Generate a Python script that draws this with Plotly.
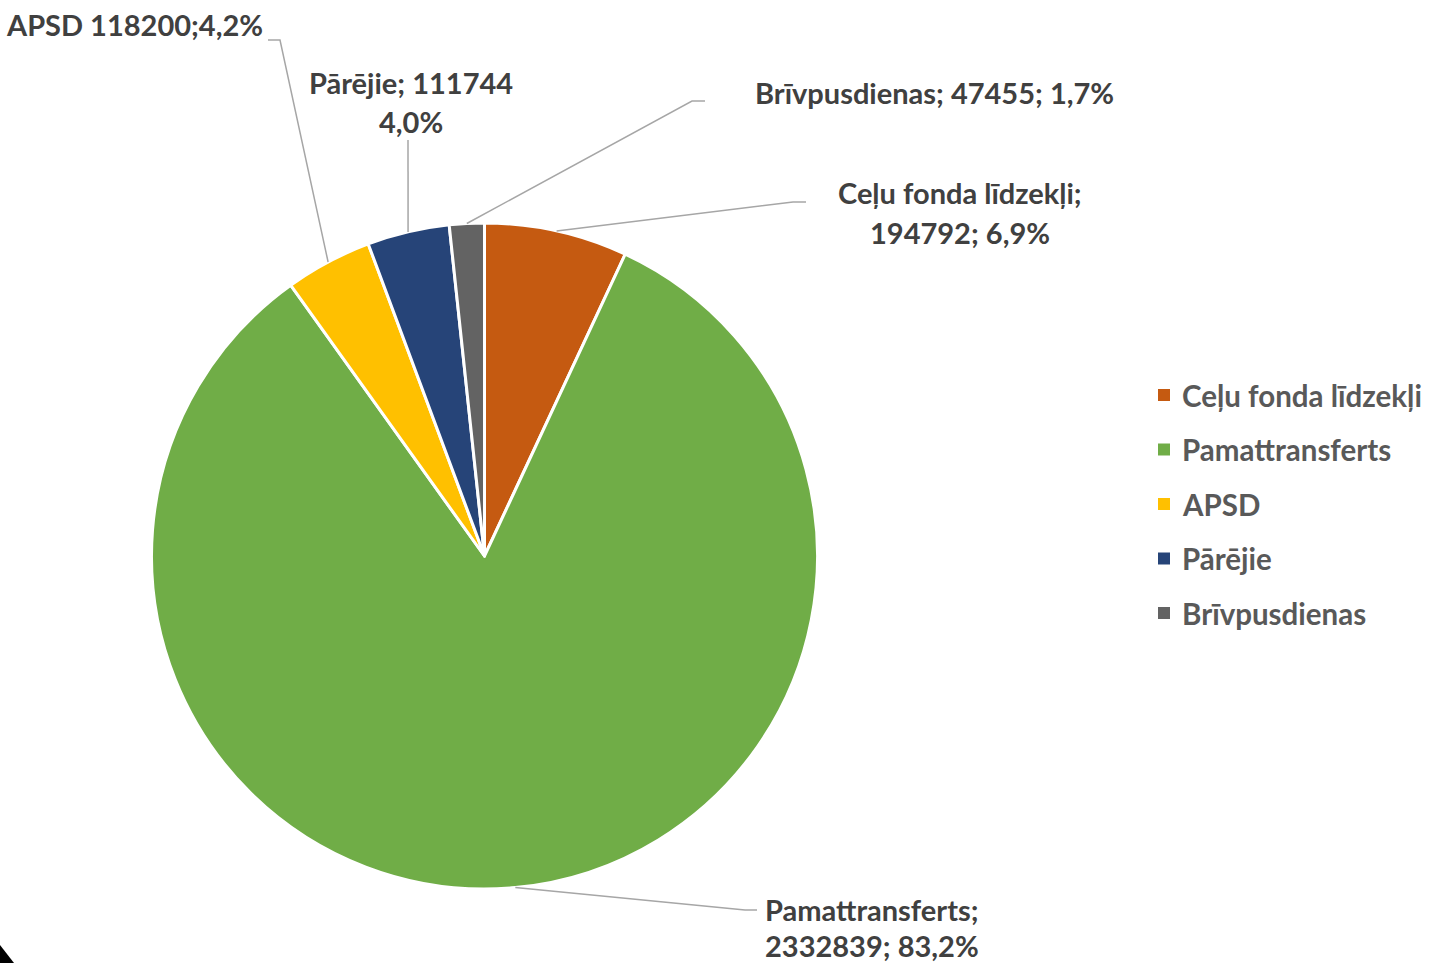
import numpy as np
import plotly.graph_objects as go

# Budget structure
categories = ["Ceļu fonda līdzekļi", "Pamattransferts", "APSD", "Pārējie", "Brīvpusdienas"]
values = [194792, 2332839, 118200, 111744, 47455]
label_lines = [
    ["Ceļu fonda līdzekļi;", "194792; 6,9%"],
    ["Pamattransferts;", "2332839; 83,2%"],
    ["APSD 118200;4,2%"],
    ["Pārējie; 111744", "4,0%"],
    ["Brīvpusdienas; 47455; 1,7%"],
]
colors = ["#C55A11", "#70AD47", "#FFC000", "#264478", "#636363"]

W, H = 1429, 963
CX, CY, R = 484.5, 556, 333
FONT = "Lato"
TXT = "#404040"

# label anchor layout (pixels): elbow point, line end, text x, text anchor, text y lines
label_layout = [
    dict(elbow=(793, 202), end=(806, 202), tx=960, anchor="center", ty=[192, 232]),
    dict(elbow=(745, 910), end=(757, 910), tx=872, anchor="center", ty=[909, 945]),
    dict(elbow=(280, 40), end=(268, 40), tx=265, anchor="right", ty=[24]),
    dict(elbow=(408, 140), end=(408, 140), tx=411, anchor="center", ty=[82, 121]),
    dict(elbow=(692, 101), end=(705, 101), tx=753, anchor="left", ty=[92]),
]

fig = go.Figure()
fig.add_trace(go.Pie(
    labels=categories, values=values, sort=False, direction="clockwise", rotation=0,
    marker=dict(colors=colors, line=dict(color="white", width=3)),
    textinfo="none", showlegend=False,
    domain=dict(x=[(CX - R) / W, (CX + R) / W], y=[(H - CY - R) / H, (H - CY + R) / H]),
))

total = sum(values)
cum = np.cumsum([0] + values[:-1])
shapes = []
annotations = []
for i, v in enumerate(values):
    ang = np.deg2rad((cum[i] + v / 2) / total * 360)
    sx, sy = CX + R * np.sin(ang), CY - R * np.cos(ang)
    lay = label_layout[i]
    ex, ey = lay["elbow"]
    fx, fy = lay["end"]
    shapes.append(dict(type="path", xref="x", yref="y",
                       path=f"M {sx:.1f} {sy:.1f} L {ex} {ey} L {fx} {fy}",
                       line=dict(color="#A6A6A6", width=1.5)))
    for line, ty in zip(label_lines[i], lay["ty"]):
        annotations.append(dict(x=lay["tx"], y=ty, xref="x", yref="y", text=f"<b>{line}</b>",
                                showarrow=False, xanchor=lay["anchor"], yanchor="middle",
                                font=dict(family=FONT, size=29, color=TXT)))

# manual legend
for i, (cat, col) in enumerate(zip(categories, colors)):
    ly = 395 + i * 54.5
    shapes.append(dict(type="rect", xref="x", yref="y", x0=1158, x1=1170, y0=ly - 6, y1=ly + 6,
                       fillcolor=col, line=dict(width=0)))
    annotations.append(dict(x=1180, y=ly, xref="x", yref="y", text=f"<b>{cat}</b>",
                            showarrow=False, xanchor="left", yanchor="middle",
                            font=dict(family=FONT, size=29.5, color="#595959")))

# corner mark
shapes.append(dict(type="path", xref="x", yref="y", path="M 0 945 L 14 963 L 0 963 Z",
                   fillcolor="black", line=dict(width=0)))

fig.update_layout(
    width=W, height=H, margin=dict(l=0, r=0, t=0, b=0),
    paper_bgcolor="white", plot_bgcolor="rgba(0,0,0,0)",
    xaxis=dict(range=[0, W], visible=False, fixedrange=True),
    yaxis=dict(range=[H, 0], visible=False, fixedrange=True),
    shapes=shapes, annotations=annotations, showlegend=False,
)
fig.write_html("out.html", config={"displayModeBar": False},
               post_script="document.body.style.margin='0';document.body.style.overflow='hidden';")
